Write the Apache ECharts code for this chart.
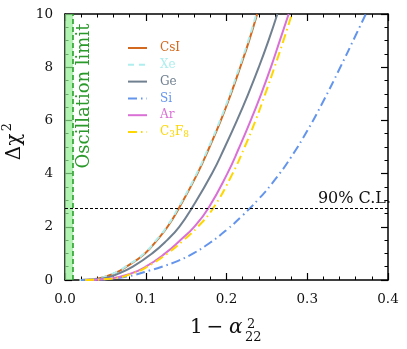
<!DOCTYPE html>
<html>
<head>
<meta charset="utf-8">
<script src="https://cdn.jsdelivr.net/npm/echarts@6/dist/echarts.min.js"></script>
<style>
  html, body { margin: 0; padding: 0; background: #fff; }
  #chart { width: 407px; height: 349px; }
</style>
</head>
<body>
<div id="chart"></div>
<script>
// chi2 levels shared by CsI, Xe, Ge, Ar, C3F8; x value (1 - alpha22^2) read at each level
var chi2Levels = [0, 0.05, 0.25, 0.5, 1, 1.5, 2, 2.7, 4, 5, 6, 7, 8, 9, 10];
var xCsI  = [0.018, 0.040, 0.061, 0.076, 0.099, 0.114, 0.127, 0.141, 0.164, 0.179, 0.193, 0.2055, 0.217, 0.228, 0.238];
var xXe   = [0.018, 0.039, 0.060, 0.075, 0.098, 0.113, 0.126, 0.140, 0.163, 0.178, 0.192, 0.2045, 0.216, 0.227, 0.237];
var xGe   = [0.020, 0.045, 0.067, 0.084, 0.108, 0.1265, 0.1415, 0.157, 0.182, 0.198, 0.213, 0.227, 0.240, 0.252, 0.263];
var xAr   = [0.025, 0.055, 0.082, 0.100, 0.124, 0.143, 0.160, 0.1775, 0.201, 0.216, 0.230, 0.243, 0.255, 0.266, 0.277];
var xC3F8 = [0.025, 0.057, 0.084, 0.102, 0.127, 0.147, 0.1645, 0.1835, 0.2075, 0.2225, 0.236, 0.248, 0.2595, 0.2705, 0.281];
// Si read on its own x grid
var xSi    = [0.02, 0.05, 0.08, 0.105, 0.12, 0.14, 0.16, 0.18, 0.20, 0.22, 0.24, 0.26, 0.28, 0.30, 0.32, 0.34, 0.36, 0.3725];
var chi2Si = [0, 0.03, 0.15, 0.36, 0.50, 0.72, 1.02, 1.41, 1.88, 2.43, 3.05, 3.77, 4.62, 5.61, 6.73, 7.94, 9.20, 10];

var clLevel = 2.71;      // 90% C.L.
var oscLimit = 0.01;     // oscillation limit
var xTicks = [0, 0.4];
var yTicks = [0, 10];

var serif = "'DejaVu Serif', 'Liberation Serif', serif";

function pts(xs, ys) {
    return xs.map(function (x, i) { return [x, ys[i]]; });
}

var materials = [
    {name: 'CsI',  data: pts(xCsI, chi2Levels),  color: '#D2691E', type: 'solid'},
    {name: 'Xe',   data: pts(xXe, chi2Levels),   color: '#AFEEEE', type: [6, 5]},
    {name: 'Ge',   data: pts(xGe, chi2Levels),   color: '#708090', type: 'solid'},
    {name: 'Si',   data: pts(xSi, chi2Si),       color: '#6495ED', type: [9, 4, 1.5, 4]},
    {name: 'Ar',   data: pts(xAr, chi2Levels),   color: '#DA70D6', type: 'solid'},
    {name: 'C3F8', data: pts(xC3F8, chi2Levels), color: '#FFD700', type: [9, 4, 1.5, 4]}
];

var series = [];
var legendData = [];
materials.forEach(function (m) {
    series.push({
        name: m.name,
        type: 'line',
        data: m.data,
        smooth: true,
        symbol: 'none',
        showSymbol: false,
        clip: true,
        lineStyle: {color: m.color, width: 2, type: m.type},
        itemStyle: {color: m.color},
        z: 3
    });
    legendData.push({
        name: m.name,
        textStyle: {
            color: m.color,
            rich: {
                n: {color: m.color, fontSize: 12, fontFamily: serif},
                s: {color: m.color, fontSize: 9, fontFamily: serif, padding: [5, 0, 0, 0]}
            }
        }
    });
});

// 90% C.L. line and oscillation limit band
series.push({
    name: 'cl',
    type: 'line',
    data: [],
    symbol: 'none',
    silent: true,
    markLine: {
        silent: true,
        symbol: 'none',
        animation: false,
        data: [
            {yAxis: clLevel, lineStyle: {color: '#000', width: 1, type: [3, 2]},
             label: {show: true, position: 'insideEndTop', formatter: '90% C.L.', color: '#111',
                     fontFamily: serif, fontSize: 16, distance: [-3, 1]}},
            {xAxis: oscLimit, lineStyle: {color: '#1f9a1f', width: 1.5, type: [5, 3]}, label: {show: false}}
        ]
    },
    markArea: {
        silent: true,
        itemStyle: {color: 'rgba(144,238,144,0.7)'},
        data: [[{xAxis: 0}, {xAxis: oscLimit}]]
    },
    z: 1
});

var axisLine = {show: true, onZero: false, lineStyle: {color: '#000', width: 1.5}};
var majorTick = {inside: true, length: 7, lineStyle: {color: '#000', width: 1.2}};

var chart = echarts.init(document.getElementById('chart'));
chart.setOption({
    animation: false,
    backgroundColor: '#fff',
    grid: {left: 65, right: 19, top: 14, bottom: 69},
    legend: {
        orient: 'vertical',
        left: 122,
        top: 37,
        itemWidth: 19,
        itemHeight: 14,
        itemGap: 4.8,
        data: legendData,
        itemStyle: {color: 'transparent', borderWidth: 0, opacity: 0},
        textStyle: {fontFamily: serif, fontSize: 12, padding: [0, 0, 0, 8]},
        formatter: function (name) {
            if (name === 'C3F8') return '{n|C}{s|3}{n|F}{s|8}';
            return '{n|' + name + '}';
        }
    },
    xAxis: [{
        type: 'value', min: xTicks[0], max: xTicks[1], interval: 0.1, position: 'bottom',
        axisLine: axisLine,
        axisTick: majorTick,
        minorTick: {show: true, splitNumber: 5, length: 3.5, lineStyle: {color: '#000', width: 1}},
        splitLine: {show: false},
        axisLabel: {margin: 12, color: '#111', fontFamily: serif, fontSize: 13.5,
                    formatter: function (v) { return v.toFixed(1); }}
    }, {
        type: 'value', min: xTicks[0], max: xTicks[1], interval: 0.1, position: 'top',
        axisLine: axisLine,
        axisTick: majorTick,
        minorTick: {show: true, splitNumber: 5, length: 3.5, lineStyle: {color: '#000', width: 1}},
        splitLine: {show: false},
        axisLabel: {show: false}
    }],
    yAxis: [{
        type: 'value', min: yTicks[0], max: yTicks[1], interval: 2, position: 'left',
        axisLine: axisLine,
        axisTick: majorTick,
        minorTick: {show: true, splitNumber: 4, length: 3.5, lineStyle: {color: '#000', width: 1}},
        splitLine: {show: false},
        axisLabel: {margin: 12, color: '#111', fontFamily: serif, fontSize: 13.5}
    }, {
        type: 'value', min: yTicks[0], max: yTicks[1], interval: 2, position: 'right',
        axisLine: axisLine,
        axisTick: majorTick,
        minorTick: {show: true, splitNumber: 4, length: 3.5, lineStyle: {color: '#000', width: 1}},
        splitLine: {show: false},
        axisLabel: {show: false}
    }],
    graphic: [
        {
            type: 'text', x: 84, y: 96, rotation: Math.PI / 2,
            style: {text: 'Oscillation limit', fill: '#2a9a2a', font: '18px ' + serif,
                    textAlign: 'center', textVerticalAlign: 'middle'}
        },
        // y axis title
        {
            type: 'group', x: 15, y: 140, rotation: Math.PI / 2,
            children: [
                {type: 'text', x: -7, y: 0,
                 style: {text: 'Δχ', fill: '#111', font: '20px ' + serif, textAlign: 'center', textVerticalAlign: 'middle'}},
                {type: 'text', x: 13, y: -7,
                 style: {text: '2', fill: '#111', font: '13px ' + serif, textAlign: 'center', textVerticalAlign: 'middle'}}
            ]
        },
        // x axis title
        {type: 'text', x: 190, y: 328,
         style: {text: '1', fill: '#111', font: '20px ' + serif, textAlign: 'left', textVerticalAlign: 'middle'}},
        {type: 'text', x: 215, y: 328,
         style: {text: '−', fill: '#111', font: '20px ' + serif, textAlign: 'center', textVerticalAlign: 'middle'}},
        {type: 'text', x: 229, y: 328,
         style: {text: 'α', fill: '#111', font: 'italic 20px ' + serif, textAlign: 'left', textVerticalAlign: 'middle'}},
        {type: 'text', x: 247, y: 325,
         style: {text: '2', fill: '#111', font: '13px ' + serif, textAlign: 'left', textVerticalAlign: 'middle'}},
        {type: 'text', x: 245, y: 338,
         style: {text: '22', fill: '#111', font: '13px ' + serif, textAlign: 'left', textVerticalAlign: 'middle'}}
    ],
    series: series
});
</script>
</body>
</html>
